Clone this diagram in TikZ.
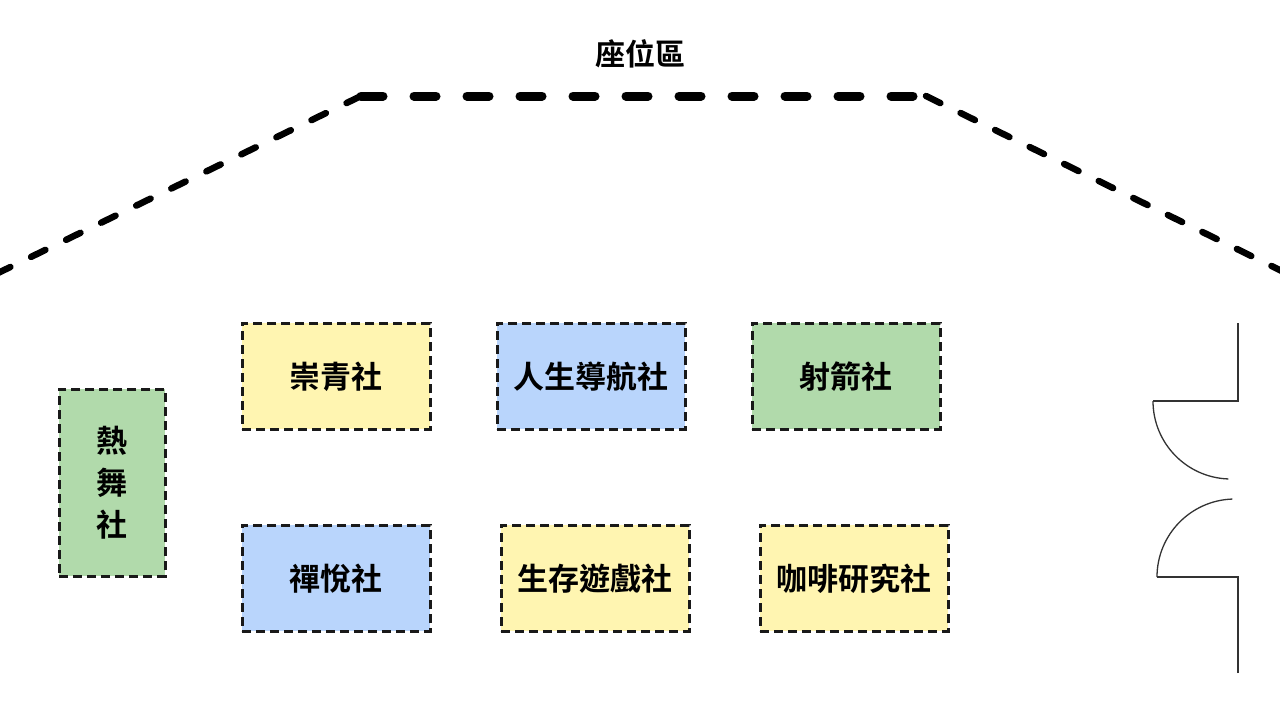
\documentclass[tikz,border=0pt]{standalone}
\usepackage{fontspec}
\newfontfamily\cjk{Noto Sans CJK TC Bold}
\begin{document}
\begin{tikzpicture}[x=1pt,y=-1pt,
  club/.style={draw=black!90, line width=2.8pt, dash pattern=on 9pt off 5pt, minimum width=188pt, minimum height=106pt, inner sep=0pt, font=\cjk\fontsize{31}{40}\selectfont, anchor=north west},
  ylw/.style={fill=yellowfill}, blu/.style={fill=bluefill}, grn/.style={fill=greenfill},
  seatdiag/.style={line width=6.5pt, line cap=round, dash pattern=on 16pt off 23pt},
  seattop/.style={line width=9pt, line cap=round, dash pattern=on 22pt off 31pt},
  door/.style={line width=1.3pt, draw=black!80}]
\definecolor{yellowfill}{HTML}{FFF5B1}
\definecolor{bluefill}{HTML}{B9D5FC}
\definecolor{greenfill}{HTML}{B1DAAB}
\useasboundingbox (0,0) rectangle (1280,720);
\fill[white] (0,0) rectangle (1280,720);
\begin{scope}
\clip (0,0) rectangle (1280,720);
% seating
\coordinate (s1) at (-4,274);
\coordinate (s2) at (361,96);
\coordinate (s3) at (926,96);
\coordinate (s4) at (1300,280);
\draw[seatdiag] (s1) -- (s2);
\draw[seattop] (s2) -- (s3);
\draw[seatdiag, dash pattern=on 16pt off 22.5pt] (s3) -- (s4);
\end{scope}
\node[font=\cjk\fontsize{30}{32}\selectfont] (title) at (640,54) {座位區};
% clubs
\node[club,ylw] (c1) at (241,322) {崇青社};
\node[club,blu] (c2) at (496,322) {人生導航社};
\node[club,grn] (c3) at (751,322) {射箭社};
\node[club,grn,minimum width=106pt,minimum height=187pt,align=center,font=\cjk\fontsize{31}{42}\selectfont] (c4) at (58,388) {熱\\舞\\社};
\node[club,blu] (c5) at (241,524) {禪悅社};
\node[club,ylw] (c6) at (500,524) {生存遊戲社};
\node[club,ylw] (c7) at (759,524) {咖啡研究社};
% door
\coordinate (d1) at (1238,323);
\coordinate (d2) at (1238,401);
\coordinate (d3) at (1153,401);
\coordinate (d4) at (1238,577);
\coordinate (d5) at (1157,577);
\coordinate (d6) at (1238,673);
\draw[door] (d1) -- (d2) -- (d3);
\draw[door] (d3) arc[start angle=180, end angle=92, radius=78];
\draw[door] (d6) -- (d4) -- (d5);
\draw[door] (d5) arc[start angle=180, end angle=268, radius=78];
\end{tikzpicture}
\end{document}
